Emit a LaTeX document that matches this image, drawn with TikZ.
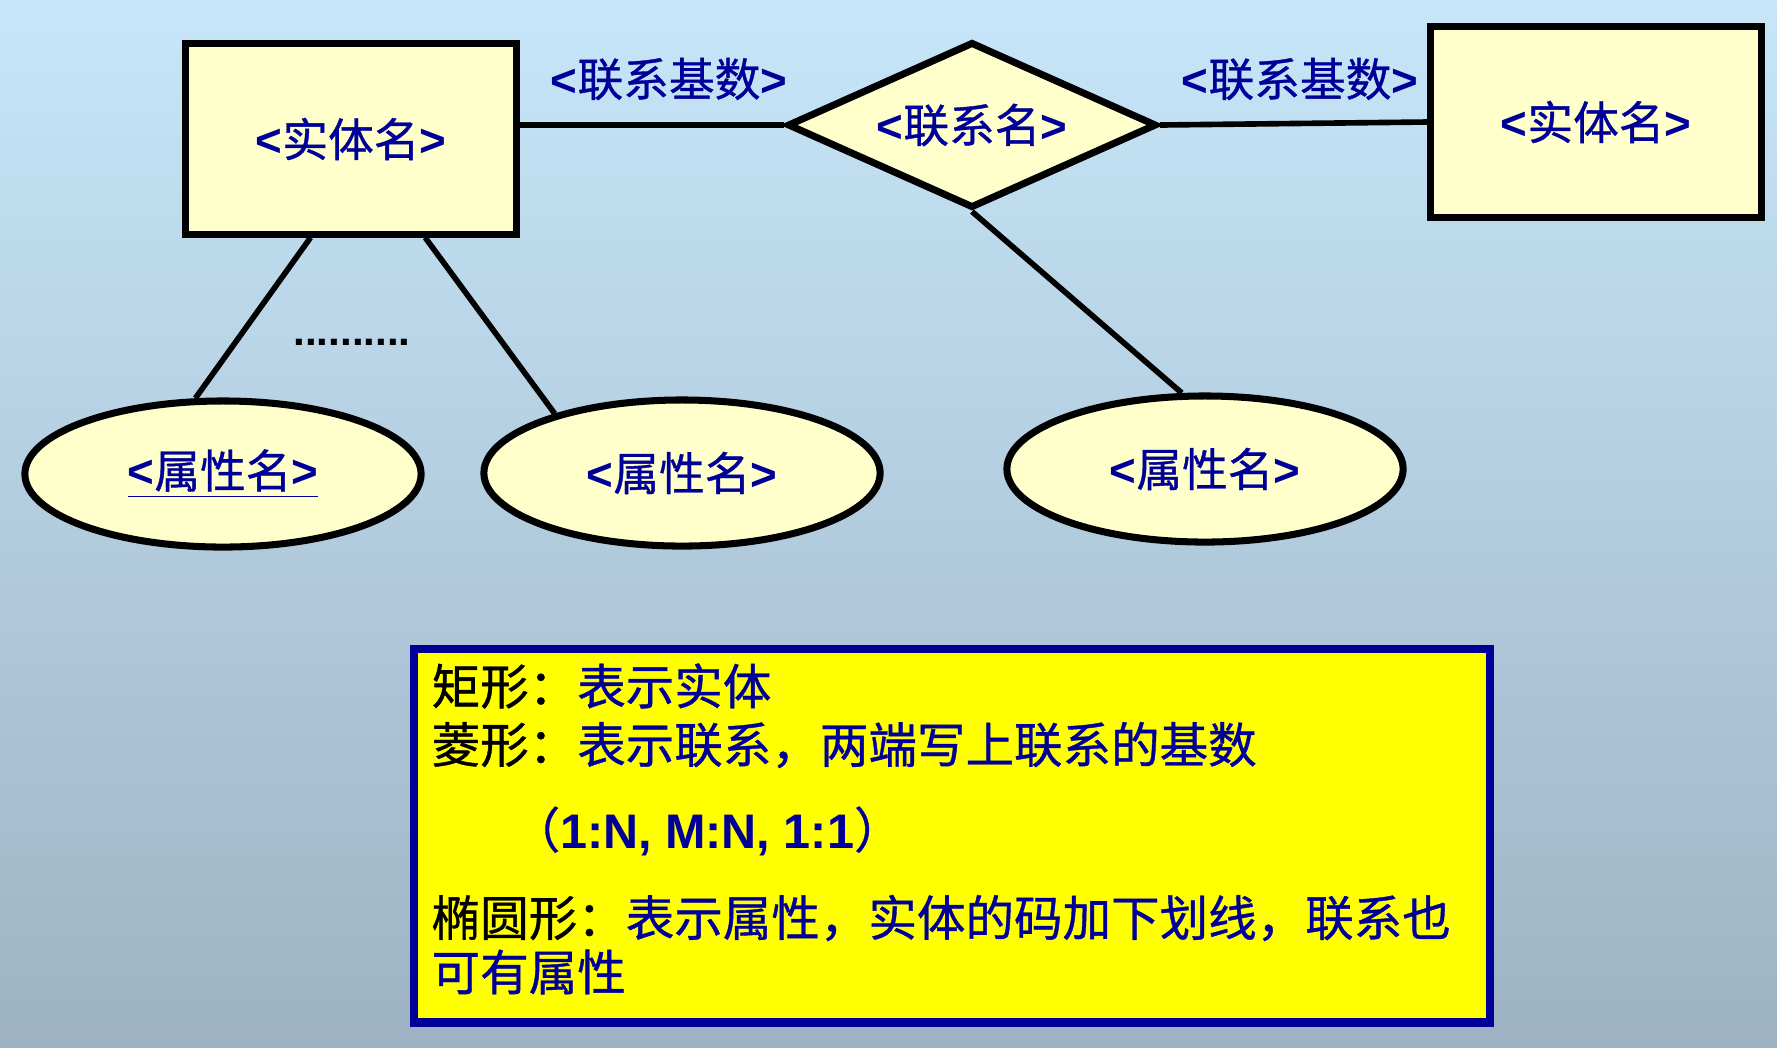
\documentclass[tikz,border=0pt]{standalone}
\usepackage{fontspec}
\usepackage{tikz}
\usetikzlibrary{shapes.geometric,calc}
\setmainfont{Noto Sans CJK SC}[FakeBold=0.8]
\newfontfamily\latinbf{Liberation Sans}
\definecolor{skytop}{RGB}{199,230,249}
\definecolor{skybot}{RGB}{157,179,195}
\definecolor{paleyellow}{RGB}{255,255,204}
\definecolor{navy}{RGB}{0,0,153}
\definecolor{noteyellow}{RGB}{255,255,0}
\newcommand{\erlabel}[1]{{\latinbf\bfseries<}#1{\latinbf\bfseries>}}

\begin{document}
\begin{tikzpicture}[x=0.01cm,y=-0.01cm,
    lbl/.style={text=navy,font=\fontsize{13}{15}\selectfont},
    entity/.style={draw,line width=2pt,fill=paleyellow,minimum width=3.3cm,minimum height=1.9cm,lbl},
    relship/.style={diamond,aspect=2.2,draw,line width=2pt,fill=paleyellow,minimum width=3.69cm,minimum height=1.66cm,inner sep=0pt,lbl},
    attrib/.style={ellipse,draw,line width=2pt,fill=paleyellow,minimum width=3.96cm,minimum height=1.46cm,lbl},
    link/.style={line width=1.6pt},
    note/.style={anchor=west,inner sep=0pt,text=navy,font=\fontsize{13.8}{16}\selectfont}]
  % background, light blue fading to grey blue
  \shade[top color=skytop,bottom color=skybot] (0,0) rectangle (1777,1047);
  % entities, relationship and attributes
  \node[entity] (ent1) at (351,139) {\erlabel{实体名}};
  \node[entity] (ent2) at (1596,122) {\erlabel{实体名}};
  \node[relship] (rel) at (972,125) {\erlabel{联系名}};
  \node[attrib] (attr1) at (223,474) {\underline{\erlabel{属性名}}};
  \node[attrib] (attr2) at (682,473) {\erlabel{属性名}};
  \node[attrib] (attr3) at (1205,469) {\erlabel{属性名}};
  % cardinality labels
  \node[lbl] (card1) at (669,79) {\erlabel{联系基数}};
  \node[lbl] (card2) at (1300,79) {\erlabel{联系基数}};
  \node[font=\fontsize{12}{14}\selectfont\latinbf\bfseries] (dots) at (352,342) {..........};
  % connectors
  \draw[link] (ent1.east |- rel.west) -- (rel.west);
  \draw[link] (rel.east) -- (ent2.west);
  \draw[link] ($(ent1.south west)!0.38!(ent1.south east)$) -- (attr1.110);
  \draw[link] ($(ent1.south west)!0.72!(ent1.south east)$) -- (attr2.155);
  \draw[link] (rel.south) -- (attr3.107);
  % legend box
  \node[draw=navy,line width=2.4pt,fill=noteyellow,minimum width=10.75cm,minimum height=3.73cm,anchor=north west] (notebox) at (410,645) {};
  \node[note] (l1) at (431,686) {\textcolor{black}{矩形：}表示实体};
  \node[note] (l2) at (431,745) {\textcolor{black}{菱形：}表示联系，两端写上联系的基数};
  \node[note] (l3) at (511,831) {（{\latinbf\bfseries 1:N, M:N, 1:1}）};
  \node[note] (l4) at (431,918) {\textcolor{black}{椭圆形：}表示属性，实体的码加下划线，联系也};
  \node[note] (l5) at (431,972) {可有属性};
\end{tikzpicture}
\end{document}
